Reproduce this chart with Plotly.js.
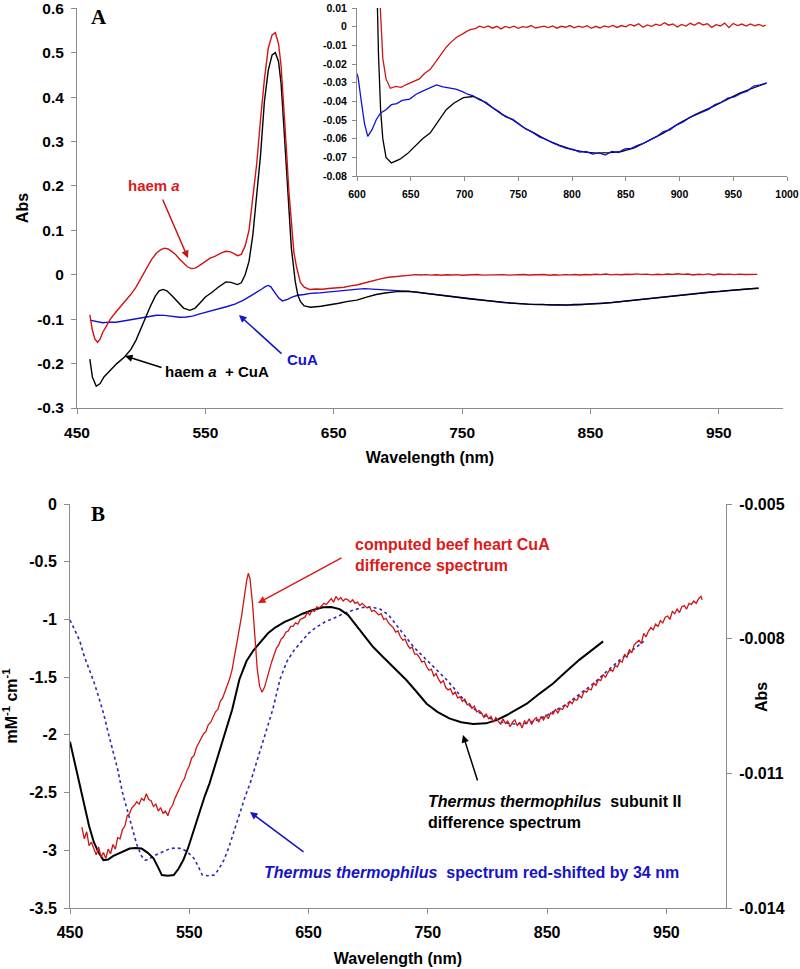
<!DOCTYPE html>
<html>
<head>
<meta charset="utf-8">
<script src="https://cdn.plot.ly/plotly-3.0.1.min.js"></script>
<style>
html,body{margin:0;padding:0;background:#fff;}
#chart{width:800px;height:969px;}
</style>
</head>
<body>
<div id="chart"></div>
<script>
// ---------- Panel A data: [wavelength nm, Abs] ----------
const haemA = [[460,-0.09],[462,-0.125],[464,-0.145],[466,-0.152],[468,-0.145],[470,-0.13],[473,-0.115],[476,-0.10],[480,-0.085],[484,-0.072],[488,-0.058],[492,-0.044],[496,-0.028],[500,-0.008],[504,0.014],[508,0.034],[512,0.049],[515,0.056],[518,0.06],[521,0.058],[524,0.052],[527,0.045],[530,0.035],[533,0.026],[536,0.018],[539,0.014],[542,0.015],[545,0.02],[548,0.026],[551,0.033],[554,0.038],[557,0.041],[560,0.046],[563,0.05],[566,0.053],[569,0.052],[572,0.048],[575,0.043],[578,0.046],[581,0.065],[584,0.10],[587,0.175],[590,0.25],[593,0.35],[596,0.44],[599,0.51],[602,0.54],[604.5,0.545],[607,0.52],[609,0.47],[611,0.39],[613,0.29],[615,0.19],[617,0.11],[619,0.05],[621,0.018],[622,0.005],[624,-0.017],[627,-0.028],[631,-0.033],[636,-0.032],[641,-0.0325],[646,-0.031],[652,-0.0295],[658,-0.028],[663,-0.025],[668,-0.023],[673,-0.019],[678,-0.015],[683,-0.011],[688,-0.008],[693,-0.0055],[698,-0.004],[702,-0.0025],[706,-0.0015],[710,-0.001],[714,0.0003],[718,-0.0005],[722,0.0004],[726,-0.0008],[730,0.0002],[734,-0.0012],[738,0.0001],[742,-0.0006],[746,0.0003],[750,-0.0009],[754,0.0],[758,-0.0004],[762,0.0006],[766,-0.0007],[770,-0.0002],[774,0.0003],[778,-0.0005],[782,0.0004],[786,-0.0008],[790,0.0002],[794,-0.0003],[798,0.0006],[802,-0.0006],[806,0.0003],[810,-0.0004],[814,0.0005],[818,-0.0009],[822,0.0002],[826,-0.0007],[830,0.0004],[834,-0.0002],[838,0.0007],[842,-0.0004],[846,0.0006],[850,-0.0001],[854,0.0012],[858,0.0004],[862,0.0016],[866,-0.0003],[870,0.0009],[874,0.0002],[878,0.0013],[882,0.0006],[886,0.0021],[890,0.0008],[894,0.0015],[898,-0.0002],[902,0.0012],[906,0.0003],[910,0.0018],[914,0.0007],[918,0.0022],[922,0.0009],[926,0.0016],[930,-0.0004],[934,0.0011],[938,0.0004],[942,0.0019],[946,-0.0005],[950,0.0017],[954,0.0006],[958,0.0014],[962,0.0003],[966,0.0015],[970,0.0005],[974,0.0012],[978,0.0002],[980,0.0008]];

const haemCuA = [[460,-0.19],[462,-0.23],[465,-0.251],[468,-0.245],[471,-0.23],[476,-0.215],[481,-0.20],[487,-0.185],[492,-0.168],[496,-0.147],[500,-0.12],[504,-0.09],[507,-0.072],[511,-0.048],[514,-0.036],[517,-0.033],[520,-0.036],[524,-0.047],[528,-0.06],[533,-0.075],[538,-0.08],[542,-0.075],[546,-0.063],[550,-0.05],[555,-0.04],[560,-0.028],[566,-0.016],[570,-0.017],[575,-0.022],[578,-0.018],[581,0.0],[584,0.03],[587,0.09],[590,0.175],[593,0.27],[596,0.39],[599,0.46],[602,0.495],[604.5,0.50],[607,0.48],[609,0.43],[611,0.34],[613,0.24],[615,0.14],[617,0.06],[618.7,0.018],[620,-0.015],[622,-0.045],[624,-0.06],[627,-0.07],[632,-0.073],[640,-0.071],[647,-0.068],[654,-0.064],[661,-0.060],[668,-0.057],[675,-0.051],[683,-0.0445],[690,-0.041],[699,-0.038],[708,-0.0374],[715,-0.039],[725,-0.043],[735,-0.047],[745,-0.050],[755,-0.054],[765,-0.057],[776,-0.0606],[788,-0.0635],[801,-0.066],[812,-0.0672],[823,-0.0677],[835,-0.0675],[845,-0.067],[858,-0.065],[870,-0.0615],[885,-0.057],[900,-0.0517],[915,-0.047],[931,-0.0428],[944,-0.039],[956,-0.0356],[968,-0.033],[981,-0.0303]];

const cuA = [[460,-0.102],[463,-0.104],[466,-0.106],[470,-0.108],[475,-0.1065],[480,-0.107],[485,-0.1045],[490,-0.102],[495,-0.0995],[500,-0.097],[506,-0.0935],[512,-0.091],[518,-0.0915],[524,-0.094],[530,-0.0955],[535,-0.095],[540,-0.093],[545,-0.0885],[550,-0.085],[556,-0.0805],[561,-0.076],[567,-0.0715],[573,-0.066],[579,-0.058],[585,-0.048],[590,-0.040],[594,-0.032],[597,-0.026],[599,-0.024],[601,-0.027],[604,-0.040],[607,-0.052],[610,-0.0588],[614,-0.0552],[618,-0.0497],[622,-0.0462],[627,-0.0445],[632,-0.0418],[637,-0.0412],[642,-0.0395],[649,-0.0388],[655,-0.0362],[661,-0.0345],[667,-0.0328],[674,-0.0312],[680,-0.0322],[686,-0.0328],[692,-0.0335],[698,-0.0348],[703,-0.0362],[708,-0.0371],[714,-0.0392],[720,-0.0405],[726,-0.0433],[732,-0.0455],[738,-0.0482],[745,-0.0497],[751,-0.0523],[757,-0.0548],[763,-0.0565],[770,-0.0592],[776,-0.0604],[782,-0.0623],[788,-0.0637],[795,-0.0652],[801,-0.0658],[807,-0.0672],[813,-0.0668],[819,-0.0683],[825,-0.0676],[831,-0.0688],[837,-0.0669],[843,-0.0674],[849,-0.0655],[855,-0.0652],[861,-0.0636],[867,-0.0624],[873,-0.0605],[879,-0.0588],[885,-0.0562],[891,-0.0553],[897,-0.0527],[903,-0.0512],[909,-0.0488],[915,-0.0473],[921,-0.0458],[927,-0.0443],[933,-0.0417],[939,-0.0405],[945,-0.0383],[951,-0.0376],[957,-0.0358],[963,-0.0345],[969,-0.0318],[975,-0.0312],[981,-0.0301]];

// ---------- Panel B data: [wavelength nm, mM-1 cm-1] ----------
const thermusII = [[450,-2.06],[454,-2.25],[458,-2.42],[462,-2.62],[466,-2.79],[470,-2.93],[474,-3.02],[478,-3.085],[482,-3.08],[486,-3.05],[490,-3.03],[495,-3.005],[500,-2.985],[505,-2.98],[510,-2.985],[515,-3.02],[520,-3.07],[524,-3.15],[527,-3.215],[532,-3.22],[537,-3.215],[541,-3.16],[545,-3.085],[549,-2.98],[553,-2.85],[558,-2.69],[563,-2.53],[567,-2.42],[572,-2.25],[577,-2.1],[581,-1.96],[586,-1.78],[592,-1.52],[598,-1.36],[604,-1.265],[610,-1.19],[616,-1.12],[622,-1.07],[630,-1.02],[637,-0.99],[645,-0.95],[653,-0.92],[662,-0.895],[669,-0.893],[676,-0.91],[683,-0.96],[690,-1.05],[697,-1.14],[704,-1.237],[711,-1.31],[718,-1.38],[725,-1.45],[732,-1.525],[740,-1.62],[749,-1.73],[758,-1.80],[768,-1.857],[778,-1.89],[788,-1.906],[799,-1.90],[808,-1.87],[816,-1.83],[825,-1.78],[833,-1.73],[844,-1.64],[855,-1.555],[866,-1.45],[877,-1.35],[887,-1.27],[897,-1.19]];

const thermusShifted = [[450,-1.005],[454,-1.09],[458,-1.18],[462,-1.32],[466,-1.43],[470,-1.54],[474,-1.67],[478,-1.81],[482,-1.98],[486,-2.14],[490,-2.30],[494,-2.50],[498,-2.66],[502,-2.80],[506,-2.95],[510,-3.05],[513,-3.085],[516,-3.08],[520,-3.05],[524,-3.03],[529,-3.005],[534,-2.985],[539,-2.98],[544,-2.985],[549,-3.02],[554,-3.07],[558,-3.15],[561,-3.215],[566,-3.22],[571,-3.215],[575,-3.16],[579,-3.085],[583,-2.98],[587,-2.85],[592,-2.69],[597,-2.53],[601,-2.42],[606,-2.25],[611,-2.1],[615,-1.96],[620,-1.78],[626,-1.52],[632,-1.36],[638,-1.265],[644,-1.19],[650,-1.12],[656,-1.07],[664,-1.02],[671,-0.99],[679,-0.95],[687,-0.92],[696,-0.895],[703,-0.893],[710,-0.91],[717,-0.96],[724,-1.05],[731,-1.14],[738,-1.237],[745,-1.31],[752,-1.38],[759,-1.45],[766,-1.525],[774,-1.62],[783,-1.73],[792,-1.80],[802,-1.857],[812,-1.89],[822,-1.906],[833,-1.90],[842,-1.87],[850,-1.83],[859,-1.78],[867,-1.73],[878,-1.64],[889,-1.555],[900,-1.45],[911,-1.35],[921,-1.27],[931,-1.19]];

const beefCuA = [[460,-2.80],[462,-2.90],[464,-2.84],[466,-2.96],[468,-2.93],[470,-2.99],[472,-3.04],[474,-2.97],[476,-3.06],[478,-3.02],[480,-3.07],[482,-2.99],[484,-3.03],[486,-2.95],[488,-2.99],[490,-2.89],[492,-2.90],[494,-2.82],[496,-2.79],[498,-2.70],[500,-2.68],[502,-2.63],[504,-2.61],[506,-2.58],[508,-2.60],[510,-2.55],[512,-2.57],[514,-2.51],[516,-2.56],[518,-2.57],[520,-2.62],[522,-2.60],[524,-2.66],[526,-2.63],[528,-2.68],[530,-2.66],[532,-2.70],[534,-2.64],[536,-2.61],[538,-2.55],[540,-2.51],[542,-2.46],[544,-2.41],[546,-2.38],[548,-2.31],[550,-2.27],[552,-2.20],[554,-2.18],[556,-2.11],[558,-2.07],[560,-2.04],[562,-1.99],[564,-1.97],[566,-1.91],[568,-1.89],[570,-1.84],[572,-1.80],[574,-1.78],[576,-1.71],[578,-1.68],[580,-1.62],[582,-1.57],[584,-1.51],[586,-1.43],[588,-1.32],[590,-1.22],[592,-1.08],[594,-0.96],[596,-0.80],[598,-0.67],[599.5,-0.60],[601,-0.65],[603,-0.86],[605,-1.16],[607,-1.43],[609,-1.58],[611,-1.63],[613,-1.59],[615,-1.51],[617,-1.44],[619,-1.37],[621,-1.31],[623,-1.25],[625,-1.22],[627,-1.17],[629,-1.15],[631,-1.11],[633,-1.10],[635,-1.06],[637,-1.06],[639,-1.03],[641,-1.04],[643,-1.00],[645,-0.99],[647,-0.98],[649,-0.94],[651,-0.96],[653,-0.92],[655,-0.93],[657,-0.89],[659,-0.90],[661,-0.88],[663,-0.86],[665,-0.87],[667,-0.84],[669,-0.82],[671,-0.85],[673,-0.80],[675,-0.83],[677,-0.81],[679,-0.84],[681,-0.82],[683,-0.83],[685,-0.85],[687,-0.83],[689,-0.86],[691,-0.85],[693,-0.88],[695,-0.86],[697,-0.88],[699,-0.90],[701,-0.89],[703,-0.93],[705,-0.92],[707,-0.94],[709,-0.96],[711,-0.95],[713,-1.00],[715,-0.99],[717,-1.03],[719,-1.05],[721,-1.07],[723,-1.11],[725,-1.10],[727,-1.15],[729,-1.18],[731,-1.17],[733,-1.22],[735,-1.25],[737,-1.24],[739,-1.30],[741,-1.30],[743,-1.33],[745,-1.37],[747,-1.36],[749,-1.41],[751,-1.44],[753,-1.43],[755,-1.49],[757,-1.47],[759,-1.52],[761,-1.55],[763,-1.53],[765,-1.59],[767,-1.61],[769,-1.60],[771,-1.65],[773,-1.63],[775,-1.68],[777,-1.67],[779,-1.71],[781,-1.69],[783,-1.74],[785,-1.73],[787,-1.77],[789,-1.75],[791,-1.80],[793,-1.79],[795,-1.81],[797,-1.85],[799,-1.82],[801,-1.86],[803,-1.84],[805,-1.89],[807,-1.85],[809,-1.88],[811,-1.91],[813,-1.86],[815,-1.90],[817,-1.88],[819,-1.93],[821,-1.89],[823,-1.87],[825,-1.92],[827,-1.89],[829,-1.94],[831,-1.88],[833,-1.90],[835,-1.86],[837,-1.91],[839,-1.87],[841,-1.85],[843,-1.89],[845,-1.84],[847,-1.87],[849,-1.83],[851,-1.86],[853,-1.81],[855,-1.82],[857,-1.78],[859,-1.81],[861,-1.77],[863,-1.78],[865,-1.74],[867,-1.76],[869,-1.71],[871,-1.73],[873,-1.69],[875,-1.70],[877,-1.66],[879,-1.68],[881,-1.62],[883,-1.63],[885,-1.60],[887,-1.61],[889,-1.55],[891,-1.57],[893,-1.52],[895,-1.53],[897,-1.48],[899,-1.50],[901,-1.46],[903,-1.43],[905,-1.45],[907,-1.40],[909,-1.41],[911,-1.36],[913,-1.37],[915,-1.30],[917,-1.33],[919,-1.26],[921,-1.29],[923,-1.22],[925,-1.20],[927,-1.18],[929,-1.21],[931,-1.12],[933,-1.15],[935,-1.10],[937,-1.07],[939,-1.09],[941,-1.04],[943,-1.06],[945,-1.01],[947,-1.03],[949,-0.98],[951,-0.97],[953,-1.00],[955,-0.93],[957,-0.95],[959,-0.91],[961,-0.94],[963,-0.89],[965,-0.88],[967,-0.91],[969,-0.86],[971,-0.87],[973,-0.84],[975,-0.86],[977,-0.82],[979,-0.80],[980,-0.83]];

// ---------- Tick labels ----------
const tickA_x = [450,550,650,750,850,950];
const tickA_yv = [-0.3,-0.2,-0.1,0,0.1,0.2,0.3,0.4,0.5,0.6];
const tickA_yt = ['-0.3','-0.2','-0.1','0','0.1','0.2','0.3','0.4','0.5','0.6'];
const tickIn_x = [600,650,700,750,800,850,900,950,1000];
const tickIn_yv = [-0.08,-0.07,-0.06,-0.05,-0.04,-0.03,-0.02,-0.01,0,0.01];
const tickIn_yt = ['-0.08','-0.07','-0.06','-0.05','-0.04','-0.03','-0.02','-0.01','0','0.01'];
const tickB_x = [450,550,650,750,850,950];
const tickB_yv = [-3.5,-3,-2.5,-2,-1.5,-1,-0.5,0];
const tickB_yt = ['-3.5','-3','-2.5','-2','-1.5','-1','-0.5','0'];
const tickB_y2v = [-0.014,-0.011,-0.008,-0.005];
const tickB_y2t = ['-0.014','-0.011','-0.008','-0.005'];

const RED = '#d01414', BLUE = '#1010d8', BLACK = '#000000';
const TXT_RED = '#dd1a1a', TXT_BLUE = '#1414c8';
const FONT = 'Liberation Sans, Arial, sans-serif';
const SERIF = 'Liberation Serif, Times New Roman, serif';
const xs = a => a.map(p => p[0]);
const ys = a => a.map(p => p[1]);

function line(d, color, width, xa, ya, dash) {
  return {x: xs(d), y: ys(d), xaxis: xa, yaxis: ya, type: 'scatter', mode: 'lines',
          line: {color: color, width: width, dash: dash || 'solid'}, showlegend: false, hoverinfo: 'skip'};
}

const traces = [
  line(cuA, BLUE, 1.4, 'x', 'y'),
  line(haemCuA, BLACK, 1.4, 'x', 'y'),
  line(haemA, RED, 1.4, 'x', 'y'),
  line(haemA, RED, 1.3, 'x2', 'y2'),
  line(haemCuA, BLACK, 1.3, 'x2', 'y2'),
  line(cuA, BLUE, 1.3, 'x2', 'y2'),
  line(thermusShifted, '#2a2ab4', 1.6, 'x3', 'y3', 'dot'),
  line(thermusII, BLACK, 2, 'x3', 'y3'),
  line(beefCuA, RED, 1.3, 'x3', 'y3'),
  {x: [], y: [], xaxis: 'x3', yaxis: 'y4', type: 'scatter', mode: 'lines', showlegend: false}
];

function axisBase(size) {
  return {showline: true, linecolor: '#8c8c8c', linewidth: 1, ticks: 'outside', ticklen: 5,
          tickcolor: '#8c8c8c', tickwidth: 1, showgrid: false, zeroline: false,
          ticklabeloverflow: 'allow',
          tickfont: {family: FONT, size: size, color: '#000', weight: 'bold'}, fixedrange: true};
}

const titleFont = {family: FONT, size: 16, color: '#000', weight: 'bold'};

function label(px, py, text, color, size, extra) {
  return Object.assign({xref: 'paper', yref: 'paper', x: px / 800, y: 1 - py / 969, text: text,
    showarrow: false, xanchor: 'center', yanchor: 'middle',
    font: {family: FONT, size: size, color: color, weight: 'bold'}}, extra || {});
}
function arrow(hx, hy, tx, ty, color) {
  return {xref: 'paper', yref: 'paper', x: hx / 800, y: 1 - hy / 969, ax: tx - hx, ay: ty - hy,
    text: '', showarrow: true, arrowcolor: color, arrowwidth: 1.5, arrowhead: 2, arrowsize: 1};
}

const layout = {
  width: 800, height: 969,
  margin: {l: 0, r: 0, t: 0, b: 0},
  paper_bgcolor: '#fff', plot_bgcolor: 'rgba(0,0,0,0)',
  showlegend: false,
  xaxis: Object.assign(axisBase(15.5), {domain: [0.09625, 0.97875], range: [450, 1000], anchor: 'y',
          tickmode: 'array', tickvals: tickA_x, ticklabelstandoff: 5,
          title: {text: 'Wavelength (nm)', font: titleFont, standoff: 12}}),
  yaxis: Object.assign(axisBase(15.5), {domain: [0.5789, 0.99174], range: [-0.3, 0.6005], anchor: 'x',
          tickmode: 'array', tickvals: tickA_yv, ticktext: tickA_yt, ticklabelstandoff: 4,
          title: {text: 'Abs', font: titleFont, standoff: 4}}),
  xaxis2: Object.assign(axisBase(10.5), {domain: [0.44625, 0.98375], range: [600, 1000], anchor: 'y2',
          tickmode: 'array', tickvals: tickIn_x, ticklabelstandoff: 4, ticklen: 4}),
  yaxis2: Object.assign(axisBase(10.5), {domain: [0.81837, 0.99174], range: [-0.08, 0.01], anchor: 'x2',
          tickmode: 'array', tickvals: tickIn_yv, ticktext: tickIn_yt, ticklabelstandoff: 3, ticklen: 4}),
  xaxis3: Object.assign(axisBase(16), {domain: [0.0875, 0.9075], range: [450, 1000], anchor: 'y3',
          tickmode: 'array', tickvals: tickB_x, ticklabelstandoff: 5,
          title: {text: 'Wavelength (nm)', font: titleFont, standoff: 12}}),
  yaxis3: Object.assign(axisBase(16), {domain: [0.06295, 0.47988], range: [-3.5, 0.0005], anchor: 'x3',
          tickmode: 'array', tickvals: tickB_yv, ticktext: tickB_yt, ticklabelstandoff: 4,
          title: {text: 'mM<sup>-1</sup> cm<sup>-1</sup>', font: titleFont, standoff: 10}}),
  yaxis4: Object.assign(axisBase(16), {overlaying: 'y3', side: 'right', anchor: 'x3', range: [-0.014, -0.0049987],
          tickmode: 'array', tickvals: tickB_y2v, ticktext: tickB_y2t, ticklabelstandoff: 4}),
  annotations: [
    label(99, 17, 'A', '#000', 21, {font: {family: SERIF, size: 21, color: '#000', weight: 'bold'}}),
    label(98, 514, 'B', '#000', 21, {font: {family: SERIF, size: 21, color: '#000', weight: 'bold'}}),
    label(761, 697, 'Abs', '#000', 16, {textangle: -90}),
    label(154, 185, 'haem <i>a</i>', TXT_RED, 15),
    label(302, 359, 'CuA', TXT_BLUE, 15),
    label(217, 371, 'haem <i>a</i>  + CuA', '#000', 15),
    label(353, 555, 'computed beef heart CuA<br>difference spectrum', TXT_RED, 16, {xanchor: 'left', align: 'left'}),
    label(426, 812, '<i>Thermus thermophilus</i>  subunit II<br>difference spectrum', '#000', 16, {xanchor: 'left', align: 'left'}),
    label(262, 872, '<i>Thermus thermophilus</i>  spectrum red-shifted by 34 nm', TXT_BLUE, 16, {xanchor: 'left', align: 'left'}),
    arrow(188, 258, 162, 198, '#c81414'),
    arrow(239, 315, 283, 355, TXT_BLUE),
    arrow(125, 356, 163, 368, '#000'),
    arrow(258, 603, 343, 557, TXT_RED),
    arrow(463, 735, 478, 782, '#000'),
    arrow(250, 812, 305, 853, TXT_BLUE)
  ]
};

Plotly.newPlot('chart', traces, layout, {staticPlot: true, displayModeBar: false});
</script>
</body>
</html>
